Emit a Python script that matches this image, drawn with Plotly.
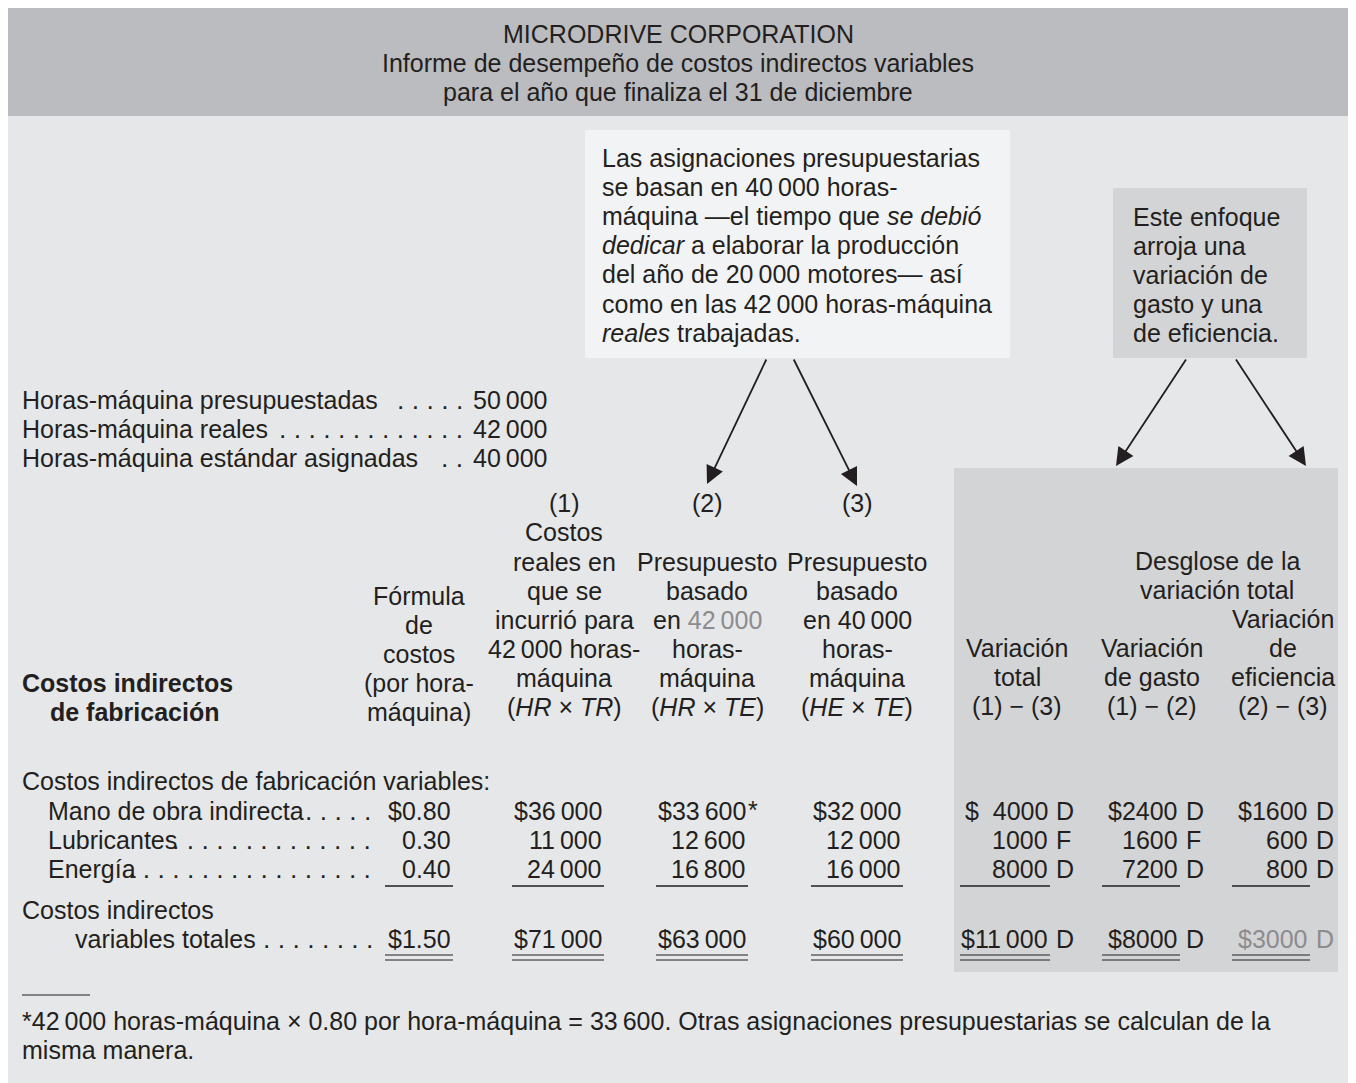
import plotly.graph_objects as go

# ---------------- data ----------------
title_lines = ["MICRODRIVE CORPORATION",
               "Informe de desempeño de costos indirectos variables",
               "para el año que finaliza el 31 de diciembre"]
hours_labels = ["Horas-máquina presupuestadas", "Horas-máquina reales",
                "Horas-máquina estándar asignadas"]
hours_dots = [5, 13, 2]
hours_values = [50000, 42000, 40000]

item_labels = ["Mano de obra indirecta", "Lubricantes", "Energía"]
item_dots = [5, 14, 17]
formula_rates = [0.80, 0.30, 0.40]
actual_costs = [36000, 11000, 24000]          # (1)
budget_actual_hours = [33600, 12600, 16800]   # (2)
budget_std_hours = [32000, 12000, 16000]      # (3)
total_var = [4000, 1000, 8000]
total_var_flag = ["D", "F", "D"]
spending_var = [2400, 1600, 7200]
spending_var_flag = ["D", "F", "D"]
efficiency_var = [1600, 600, 800]
efficiency_var_flag = ["D", "D", "D"]

total_rate = 1.50
totals_cols = [71000, 63000, 60000]
totals_var = [11000, 8000, 3000]
totals_var_flag = ["D", "D", "D"]

box_lines = ["Las asignaciones presupuestarias",
             "se basan en 40\u2009000 horas-",
             "máquina \u2014el tiempo que <i>se debió</i>",
             "<i>dedicar</i> a elaborar la producción",
             "del año de 20\u2009000 motores\u2014 así",
             "como en las 42\u2009000 horas-máquina",
             "<i>reales</i> trabajadas."]
gray_box_lines = ["Este enfoque", "arroja una", "variación de",
                  "gasto y una", "de eficiencia."]

footnote_lines = ["*42\u2009000 horas-máquina \u00d7 0.80 por hora-máquina = 33\u2009600. "
                  "Otras asignaciones presupuestarias se calculan de la",
                  "misma manera."]

# ---------------- style ----------------
FONT = "Liberation Sans, Arial, Helvetica, sans-serif"
FS = 25
LEAD_FS = 26.5
INK = "#231f20"
GRAYTXT = "#8c8c8e"
LH = 29.1

W, H = 1356, 1083
OFF = 8  # default page body margin
ann = []
shapes = []


def txt(x, y, s, anchor="left", color=INK, size=FS):
    ann.append(dict(x=x, y=y, xref="x", yref="y", text=s, showarrow=False,
                    xanchor=anchor, yanchor="middle",
                    font=dict(family=FONT, size=size, color=color)))


def block(x, y_bottom, lines, anchor="center"):
    n = len(lines)
    for i, s in enumerate(lines):
        txt(x, y_bottom - (n - 1 - i) * LH, s, anchor)


def rect(x0, y0, x1, y1, color):
    shapes.append(dict(type="rect", xref="x", yref="y", x0=x0, x1=x1, y0=y0, y1=y1,
                       fillcolor=color, line=dict(width=0), layer="below"))


def hline(x0, x1, y, w=1.4):
    shapes.append(dict(type="line", xref="x", yref="y", x0=x0, x1=x1, y0=y, y1=y,
                       line=dict(color=INK, width=w)))


def fmt(n):
    s = f"{n:,}"
    if n >= 10000:
        return s.replace(",", "\u2009")
    return s.replace(",", "")


def leader(x_right, y, k):
    txt(x_right, y, " ".join(["."] * k), "right", size=LEAD_FS)


# backgrounds
rect(OFF, 6, 1353, 116, "#bbbcbf")
rect(OFF, 116, 1353, H, "#e6e7e9")
rect(585, 130, 1010, 358, "#f2f3f4")
rect(1113, 188, 1307, 358, "#d3d4d6")
rect(954, 468, 1338, 972, "#d3d4d6")

# title
for i, s in enumerate(title_lines):
    txt(678, 34 + i * LH, s, "center")

# callout boxes
for i, s in enumerate(box_lines):
    txt(600, 158 + i * LH, s, "left")
for i, s in enumerate(gray_box_lines):
    txt(1131, 217 + i * LH, s, "left")

# arrows
for (tx, ty, sx, sy) in [(707, 484, 767, 358), (857, 486, 793, 358),
                         (1116, 466, 1187, 358), (1306, 466, 1235, 358)]:
    ann.append(dict(x=tx, y=ty, ax=sx, ay=sy, xref="x", yref="y", axref="x", ayref="y",
                    text="", showarrow=True, arrowhead=2, arrowsize=2.0,
                    arrowwidth=1.8, arrowcolor=INK, standoff=0))

# hours block
for i, (lab, d, v) in enumerate(zip(hours_labels, hours_dots, hours_values)):
    y = 400 + i * LH
    txt(20, y, lab, "left")
    leader(465, y, d)
    txt(550, y, fmt(v), "right")

# column headers
txt(564, 503, "(1)", "center")
txt(707, 503, "(2)", "center")
txt(857, 503, "(3)", "center")
block(564, 707, ["Costos", "reales en", "que se", "incurrió para",
                 "42\u2009000 horas-", "máquina", "(<i>HR</i> \u00d7 <i>TR</i>)"])
block(707, 707, ["Presupuesto", "basado",
                 f"en <span style='color:{GRAYTXT}'>42\u2009000</span>",
                 "horas-", "máquina", "(<i>HR</i> \u00d7 <i>TE</i>)"])
block(857, 707, ["Presupuesto", "basado", "en 40\u2009000", "horas-", "máquina",
                 "(<i>HE</i> \u00d7 <i>TE</i>)"])
block(419, 712, ["Fórmula", "de", "costos", "(por hora-", "máquina)"])
txt(20, 683, "<b>Costos indirectos</b>", "left")
txt(48, 712, "<b>de fabricación</b>", "left")

block(1217, 590, ["Desglose de la", "variación total"])
block(1017, 706, ["Variación", "total", "(1) \u2212 (3)"])
block(1152, 706, ["Variación", "de gasto", "(1) \u2212 (2)"])
block(1283, 706, ["Variación", "de", "eficiencia", "(2) \u2212 (3)"])

# rows
txt(20, 781, "Costos indirectos de fabricación variables:", "left")
COLR = [604, 748, 903]
VARR = [1050, 1180, 1310]
cols = [actual_costs, budget_actual_hours, budget_std_hours]
vars_ = [(total_var, total_var_flag), (spending_var, spending_var_flag),
         (efficiency_var, efficiency_var_flag)]
for i, lab in enumerate(item_labels):
    y = 811 + i * LH
    txt(46, y, lab, "left")
    leader(373, y, item_dots[i])
    pre = "$" if i == 0 else ""
    txt(453, y, f"{pre}{formula_rates[i]:.2f}", "right")
    for c, vals in enumerate(cols):
        txt(COLR[c], y, pre + fmt(vals[i]), "right")
        if c == 1 and i == 0:
            txt(COLR[c] - 2, y - 1, "*", "left")
    for c, (vals, flags) in enumerate(vars_):
        if i == 0:
            s = ("$\u2007" if c == 0 else "$") + fmt(vals[i])
        else:
            s = fmt(vals[i])
        txt(VARR[c], y, s, "right")
        txt(VARR[c] + 4, y, flags[i], "left")

UL = [(385, 453), (512, 604), (656, 748), (811, 903),
      (960, 1050), (1102, 1180), (1232, 1310)]
for (a, b) in UL:
    hline(a, b, 886)

# totals
txt(20, 910, "Costos indirectos", "left")
txt(73, 939, "variables totales", "left")
leader(375, 939, 8)
txt(453, 939, f"${total_rate:.2f}", "right")
for c, v in enumerate(totals_cols):
    txt(COLR[c], 939, "$" + fmt(v), "right")
for c, (v, f) in enumerate(zip(totals_var, totals_var_flag)):
    col = GRAYTXT if c == 2 else INK
    txt(VARR[c], 939, "$" + fmt(v), "right", color=col)
    txt(VARR[c] + 4, 939, f, "left", color=col)
for (a, b) in UL:
    hline(a, b, 955, 1.2)
    hline(a, b, 960, 1.2)

# footnote
hline(22, 90, 995, 1.2)
for i, s in enumerate(footnote_lines):
    txt(20, 1021 + i * LH, s, "left")

fig = go.Figure()
fig.update_layout(
    width=W - OFF, height=H - OFF, margin=dict(l=0, r=0, t=0, b=0),
    paper_bgcolor="white", plot_bgcolor="white",
    xaxis=dict(range=[OFF, W], visible=False, fixedrange=True),
    yaxis=dict(range=[H, OFF], visible=False, fixedrange=True),
    annotations=ann, shapes=shapes, showlegend=False,
)
fig.write_html("out.html")
